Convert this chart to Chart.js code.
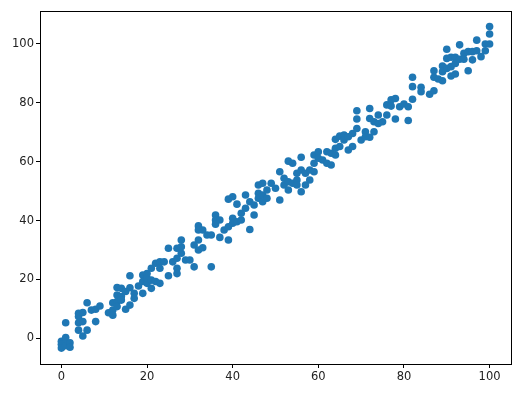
<!DOCTYPE html>
<html><head><meta charset="utf-8">
<script src="https://cdn.jsdelivr.net/npm/chart.js@4"></script>
<style>html,body{margin:0;padding:0;background:#fff;}#wrap{width:527px;height:395px;}</style>
</head><body><div id="wrap"><canvas id="c" width="527" height="395"></canvas></div>
<script>
const xValues = [0,0,0,1,1,1,1,2,2,
4,4,4,4,5,5,5,6,6,7,8,8,9,
11,12,12,12,13,13,13,13,14,14,14,15,15,16,16,16,17,17,
18,19,19,19,20,20,20,21,21,21,22,22,23,23,23,24,25,25,26,27,27,27,27,28,28,28,29,30,31,31,
32,32,32,32,33,33,34,35,35,36,36,36,37,37,38,39,39,39,40,40,40,41,41,42,42,43,43,44,44,45,45,
46,46,46,47,47,47,48,48,49,50,51,51,52,52,53,53,53,54,54,55,55,55,56,56,56,57,57,58,58,59,59,59,
60,60,61,62,62,63,63,64,64,64,65,65,66,66,67,67,68,68,69,69,69,70,71,71,72,72,72,73,73,74,74,75,
76,76,77,77,78,78,79,80,81,81,82,82,82,84,84,86,87,87,87,88,89,89,89,90,90,90,91,91,91,92,92,92,
93,93,94,94,95,95,96,96,97,97,98,99,99,100,100,100];
const yValues = [-1,-2,-3.3,5.3,0.3,-1.5,-2.5,-1.5,-3,
8.5,7.4,5.3,2.8,8.8,5.7,0.8,12.1,2.8,9.6,9.9,5.7,11,
8.7,12.1,9.6,7.9,17.3,14.7,12.5,10.8,17,14.2,13,15.9,9.9,21.3,17.2,11.3,15.3,13.6,
17.8,21.5,19.3,15.3,22,18.7,20.4,23.8,19.8,17,25.5,19.3,26,23.8,18.7,26,30.6,21.3,26,30.6,27.2,23.8,22,33.4,31.1,28.9,26.6,26.6,31.7,24.3,
38.2,36.8,33.4,30,36.8,30.8,35.1,35.1,24.3,41.9,40.2,38.8,40.2,34.3,36.8,47.3,37.9,33.4,48.1,40.8,39.1,45.6,39.6,42.5,40.2,48.7,44.2,46.4,37,45.3,41.9,
52.1,49.3,47.6,52.7,48.7,46.4,50.4,47.6,52.7,51,56.6,47,54.4,52.1,60.2,53.2,50.4,59.5,52.7,56.1,53.8,52.1,61.5,57.2,49.8,56.1,52.1,57.2,53.8,62.3,59.5,56.6,
63.4,61.2,60.6,63.4,59.5,62.9,58.9,67.6,64.6,62.3,68.7,65.2,69.1,67.4,68.5,64,69.6,65.2,77.3,74.5,71.3,67.4,70.2,68.5,78.1,74.7,68.3,73.6,70.2,75.9,73,73.6,
79.3,75.9,81,78.9,81.5,74.5,78.7,79.6,78.7,74,88.7,85.5,81.2,85.3,83.8,82.9,90.9,88.7,84.1,88.1,92.5,90.6,87.5,98.2,95.1,91.7,95.5,92.3,89.1,95.5,93.4,89.8,
99.7,94.8,96.8,94.8,97.4,90.9,97.4,94.6,101.3,97.7,95.7,100,97.7,105.9,103.4,100];
const xTicks = [0,20,40,60,80,100];
const yTicks = [0,20,40,60,80,100];

const points = xValues.map((x,i)=>({x:x,y:yValues[i]}));
const frame = {id:'frame',afterDraw(ch){const a=ch.chartArea,c=ch.ctx;c.save();c.strokeStyle='#000';c.lineWidth=1;c.strokeRect(Math.round(a.left)+0.5,Math.round(a.top)+0.5,Math.round(a.right-a.left),Math.round(a.bottom-a.top));c.restore();}};
const tickFont = {family:'DejaVu Sans',size:11.5};
new Chart(document.getElementById('c'),{
  type:'scatter',
  data:{datasets:[{data:points,backgroundColor:'#1f77b4',borderWidth:0,pointRadius:3.8,pointHoverRadius:3.8}]},
  options:{
    responsive:false,animation:false,devicePixelRatio:1,
    layout:{padding:{top:11,right:16,left:0,bottom:0}},
    plugins:{legend:{display:false},tooltip:{enabled:false}},
    scales:{
      x:{type:'linear',min:-5,max:105,
        afterBuildTicks(s){s.ticks=xTicks.map(v=>({value:v}));},
        afterFit(s){s.height=31;},
        grid:{drawOnChartArea:false,drawTicks:true,tickLength:4,color:'#000'},
        border:{display:false},
        ticks:{color:'#222',font:tickFont,padding:2,maxRotation:0}},
      y:{type:'linear',min:-8.7,max:111.2,
        afterBuildTicks(s){s.ticks=yTicks.map(v=>({value:v}));},
        afterFit(s){s.width=40;},
        grid:{drawOnChartArea:false,drawTicks:true,tickLength:4,color:'#000'},
        border:{display:false},
        ticks:{color:'#222',font:tickFont,padding:2}}
    }
  },
  plugins:[frame]
});
</script></body></html>
